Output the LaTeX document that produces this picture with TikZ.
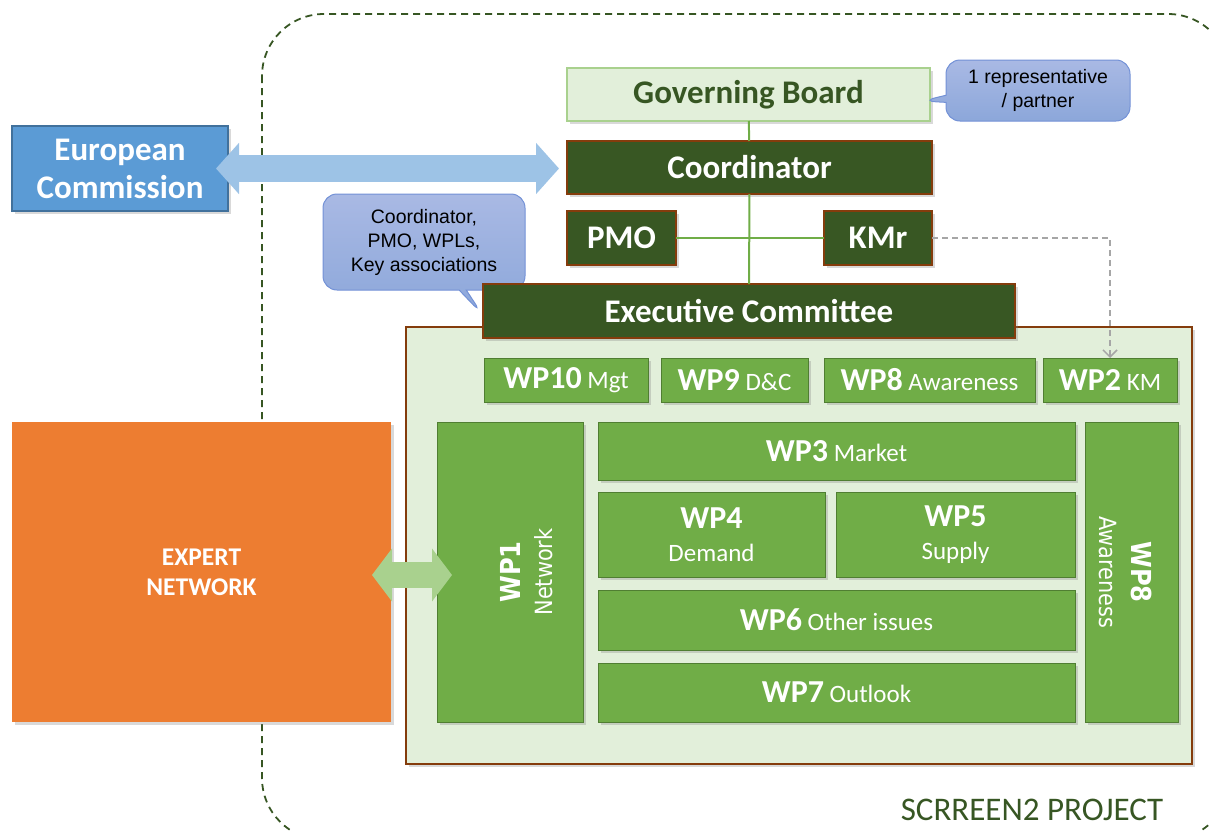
\documentclass[tikz,border=0pt]{standalone}
\usepackage{fontspec}
\setmainfont{Carlito}
\newfontfamily\notefont{Liberation Sans}
\newfontfamily\sidefont[FakeStretch=0.88]{DejaVu Sans}
\usetikzlibrary{shapes.callouts,shadows,arrows.meta}

\definecolor{mgtgreen}{HTML}{385723}
\definecolor{mgtborder}{HTML}{843C0C}
\definecolor{boardfill}{HTML}{E2EFDA}
\definecolor{boardline}{HTML}{A9D18E}
\definecolor{boardtext}{HTML}{375623}
\definecolor{wpfill}{HTML}{70AD47}
\definecolor{wpline}{HTML}{507E32}
\definecolor{ecfill}{HTML}{5B9BD5}
\definecolor{ecline}{HTML}{41719C}
\definecolor{expfill}{HTML}{ED7D31}
\definecolor{arrowblue}{HTML}{9DC3E6}
\definecolor{arrowgreen}{HTML}{A9D18E}
\definecolor{notetop}{HTML}{A9B9E4}
\definecolor{notebot}{HTML}{8CA7DA}
\definecolor{noteline}{HTML}{7391D6}
\definecolor{kmgray}{HTML}{A6A6A6}

\newcommand{\wpname}[2]{{\fontsize{32}{33}\selectfont\bfseries #1}{\fontsize{25}{33}\selectfont\ #2}}
\newcommand{\wpstack}[2]{{\fontsize{32}{33}\selectfont\bfseries #1}\\{\fontsize{25}{33}\selectfont #2}}

\tikzset{
  boxshadow/.style={drop shadow={shadow xshift=3pt,shadow yshift=-3pt,opacity=.3}},
  box/.style={rectangle, inner sep=0pt, outer sep=0pt, line width=1.5pt, boxshadow},
  board/.style={box, draw=boardline, fill=boardfill, text=boardtext, font=\bfseries\fontsize{33}{38}\selectfont},
  mgt/.style={box, draw=mgtborder, fill=mgtgreen, text=white, font=\bfseries\fontsize{33}{38}\selectfont},
  wp/.style={box, draw=wpline, line width=1pt, fill=wpfill, text=white, align=center, font=\fontsize{25}{33}\selectfont},
  sidetext/.style={text=white, align=center, inner sep=0pt, font=\sidefont\fontsize{23.7}{32}\selectfont},
  note/.style={rectangle callout, rounded corners=14pt, draw=noteline, line width=1pt, top color=notetop, bottom color=notebot, font=\notefont\fontsize{19.5}{24}\selectfont, align=center, inner sep=0pt},
  tree/.style={draw=wpfill, line width=2pt},
  kmlink/.style={draw=kmgray, line width=1.5pt, dash pattern=on 6pt off 4pt, -{Straight Barb[length=7pt,width=14pt]}},
}

\begin{document}
\begin{tikzpicture}[x=1pt,y=-1pt]
\useasboundingbox (0,0) rectangle (1210,830);
\draw[boardtext, line width=1.8pt, dash pattern=on 7pt off 5pt, rounded corners=62pt] (262,14) rectangle (1230,840);

\node[box, draw=ecline, fill=ecfill, text=white, align=center, font=\bfseries\fontsize{33}{38}\selectfont, minimum width=216pt, minimum height=85pt] (ec) at (120,168.5) {European\\Commission};

\node[board, minimum width=363pt, minimum height=53pt] (gb) at (748.5,94.5) {Governing Board};
\node[mgt, minimum width=365pt, minimum height=53pt] (coord) at (749.5,167.5) {Coordinator};
\node[mgt, minimum width=109pt, minimum height=54pt] (pmo) at (621.5,238) {PMO};
\node[mgt, minimum width=108pt, minimum height=54pt] (kmr) at (878,238) {KMr};

\draw[line width=27pt, arrowblue, {Triangle[length=23pt,width=50pt]}-{Triangle[length=23pt,width=50pt]}, shorten <=-12pt, shorten >=8pt] (ec.east) -- (ec.east -| coord.west);

\path[tree] (gb) edge (coord) (pmo) edge (kmr);

\node[note, minimum width=184pt, minimum height=61pt, callout absolute pointer={(922,101)}] (repnote) at (1038,90.5) {1 representative\\/ partner};
\node[note, minimum width=202pt, minimum height=96pt, callout absolute pointer={(482,314)}] (execnote) at (424,242) {Coordinator,\\PMO, WPLs,\\Key associations};

\node[box, draw=mgtborder, fill=boardfill, minimum width=786pt, minimum height=437pt] (wparea) at (799,545.5) {};
\node[mgt, minimum width=532pt, minimum height=54pt] (exec) at (749,311) {Executive Committee};
\path[tree] (coord) edge (exec);

\node[wp, minimum width=164pt, minimum height=44pt] (wp10) at (566,380) {\wpname{WP10}{Mgt}};
\node[wp, minimum width=147pt, minimum height=44pt] (wp9) at (734.5,380) {\wpname{WP9}{D\&C}};
\node[wp, minimum width=211pt, minimum height=44pt] (wp8) at (929.5,380) {\wpname{WP8}{Awareness}};
\node[wp, minimum width=134pt, minimum height=44pt] (wp2) at (1110,380) {\wpname{WP2}{KM}};

\node[wp, minimum width=146pt, minimum height=300pt] (wp1) at (510,572) {};
\node[sidetext, rotate=90] (wp1txt) at ([xshift=17pt]wp1.center) {{\bfseries\fontsize{27.5}{32}\selectfont WP1}\\Network};
\node[wp, minimum width=477pt, minimum height=58pt] (wp3) at (836.5,451) {\wpname{WP3}{Market}};
\node[wp, minimum width=227pt, minimum height=85pt] (wp4) at (711.5,534.5) {\wpstack{WP4}{Demand}};
\node[wp, minimum width=239pt, minimum height=85pt] (wp5) at (955.5,534.5) {\wpstack{WP5}{Supply}};
\node[wp, minimum width=477pt, minimum height=60pt] (wp6) at (836.5,620) {\wpname{WP6}{Other issues}};
\node[wp, minimum width=477pt, minimum height=59pt] (wp7) at (836.5,692.5) {\wpname{WP7}{Outlook}};
\node[wp, minimum width=93pt, minimum height=300pt] (wp8side) at (1131.5,572) {};
\node[sidetext, rotate=-90] (wp8txt) at ([xshift=-6pt]wp8side.center) {{\bfseries\fontsize{27.5}{32}\selectfont WP8}\\Awareness};

\node[box, fill=expfill, text=white, align=center, font=\bfseries\fontsize{25.5}{30}\selectfont, minimum width=379pt, minimum height=300pt] (expert) at (201.5,572) {EXPERT\\NETWORK};
\draw[line width=26pt, arrowgreen, {Triangle[length=20pt,width=52pt]}-{Triangle[length=20pt,width=52pt]}, shorten <=-19pt, shorten >=-15pt] (expert.east |- 0,575) -- (wp1.west |- 0,575);

\draw[kmlink] (kmr.east) -| (wp2.north);

\node[text=boardtext, font=\fontsize{33}{36}\selectfont] (projname) at (1032,810) {SCRREEN2 PROJECT};
\end{tikzpicture}
\end{document}
